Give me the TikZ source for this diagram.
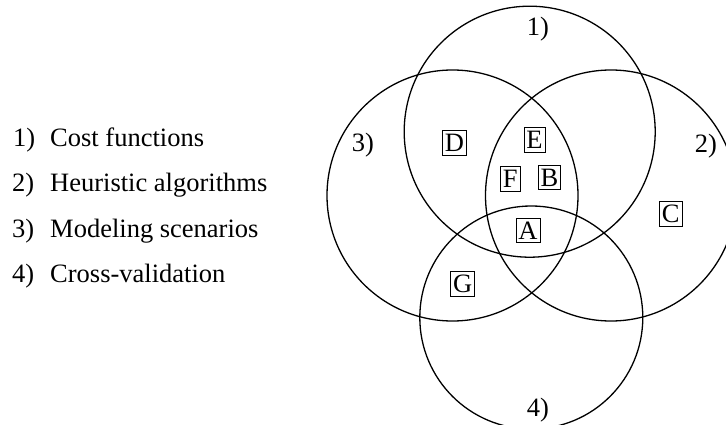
\documentclass[tikz,border=0pt]{standalone}
\usepackage{fontspec}
\setmainfont{Liberation Serif}
\begin{document}
\begin{tikzpicture}[x=1pt,y=-1pt,
  setcircle/.style={draw, circle, line width=1.3pt, inner sep=0pt},
  lbl/.style={anchor=base, inner sep=0pt, font=\fontsize{26.5}{30}\selectfont},
  itembox/.style={draw, line width=0.75pt, inner xsep=2.5pt, inner ysep=3.5pt,
    text height=17.5pt, text depth=0pt, font=\fontsize{26.5}{30}\selectfont},
  legnum/.style={anchor=base west, inner sep=0pt, font=\fontsize{26.5}{30}\selectfont},
  legtext/.style={anchor=base west, inner sep=0pt, font=\fontsize{26.5}{30}\selectfont}]
\useasboundingbox (0,0) rectangle (726,425);
\clip (0,0) rectangle (726,425);
% circles
\node[setcircle, minimum size=251pt] (c1) at (529.7,131.7) {};
\node[setcircle, minimum size=251pt] (c3) at (452.5,195.5) {};
\node[setcircle, minimum size=251pt] (c2) at (611,195.5) {};
\node[setcircle, minimum size=223pt] (c4) at (531.3,317.5) {};
% circle labels
\node[lbl] (l1) at (538,36) {1)};
\node[lbl] (l3) at (363,152) {3)};
\node[lbl] (l2) at (706,153) {2)};
\node[lbl] (l4) at (538,416) {4)};
% boxes
\node[itembox] (D) at (454.5,143) {D};
\node[itembox] (E) at (534.5,140) {E};
\node[itembox] (F) at (510.3,179) {F};
\node[itembox] (B) at (549.5,177.5) {B};
\node[itembox] (A) at (528,230.5) {A};
\node[itembox] (C) at (670.8,213.7) {C};
\node[itembox] (G) at (462.8,283.7) {G};
% legend
\node[legnum] (n1) at (13,147) {1)};
\node[legtext] (t1) at (50,147) {Cost functions};
\node[legnum] (n2) at (12,192) {2)};
\node[legtext] (t2) at (50,192) {Heuristic algorithms};
\node[legnum] (n3) at (12,237) {3)};
\node[legtext] (t3) at (50,237) {Modeling scenarios};
\node[legnum] (n4) at (12,282) {4)};
\node[legtext] (t4) at (50,282) {Cross-validation};
\end{tikzpicture}
\end{document}
